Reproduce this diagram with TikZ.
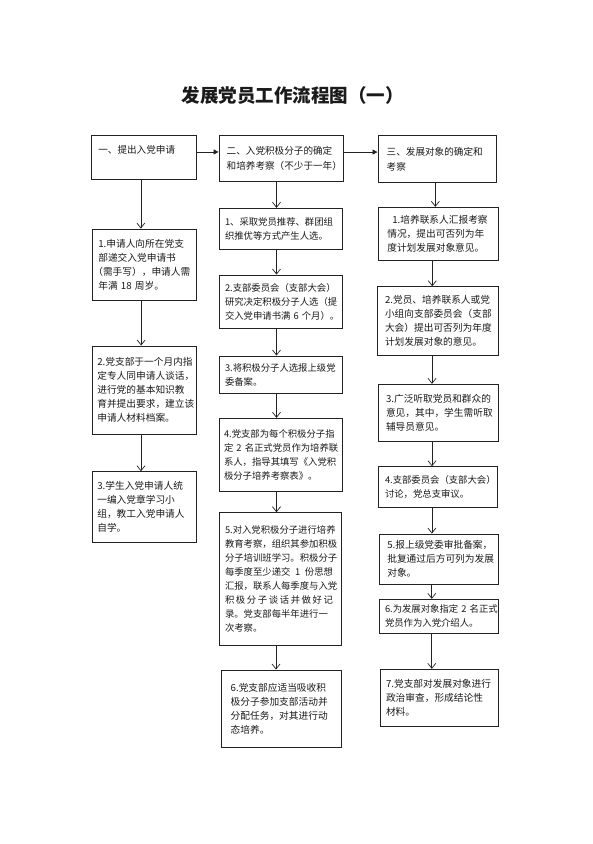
\documentclass[tikz,border=0pt]{standalone}
\usepackage{fontspec}
\setmainfont{Noto Sans CJK SC}
\usetikzlibrary{arrows.meta}
\definecolor{ink}{HTML}{1A1A1A}
\definecolor{edge}{HTML}{222222}
\begin{document}
\begin{tikzpicture}[x=1pt,y=-1pt,
  box/.style={draw=edge, line width=0.9pt, inner sep=0pt, align=left, text=ink,
    font=\fontsize{9.7}{14}\selectfont},
  nbox/.style={box, font=\fontsize{9.35}{14}\selectfont},
  hbox/.style={box, font=\fontsize{9.6}{15.5}\selectfont},
  varr/.style={draw=edge, line width=0.7pt, -{Straight Barb[length=5pt,width=8pt,line width=0.7pt]}},
  harr/.style={draw=edge, line width=0.7pt, -{Triangle[length=5pt,width=5pt]}}]
\useasboundingbox (0,0) rectangle (593,844);
\node[text=ink, font=\fontsize{18.5}{20}\selectfont\bfseries] (title) at (292.5,95) {发展党员工作流程图（一）};

% headers
\node[hbox, minimum width=105.7, minimum height=43.3, text width=91.1] (A) at (143.85,157.35) {一、提出入党申请\\\mbox{}};
\node[hbox, minimum width=124, minimum height=45.3, text width=108.6] (B) at (281,158.35) {二、入党积极分子的确定\\和培养考察（不少于一年）};
\node[hbox, minimum width=118.7, minimum height=47, text width=101.3] (C) at (437.35,159.2) {三、发展对象的确定和\\考察};

% column 1
\node[box, minimum width=103.7, minimum height=71.7, text width=91.7] (a1) at (144.15,264.85) {1.申请人向所在党支\\部递交入党申请书\\\hspace*{-5pt}（需手写），申请人需\\年满~18~周岁。};
\node[box, minimum width=104, minimum height=88, text width=93.4] (a2) at (144,390) {2.党支部于一个月内指\\定专人同申请人谈话，\\进行党的基本知识教\\育并提出要求，建立该\\申请人材料档案。};
\node[box, minimum width=104, minimum height=71, text width=93.4] (a3) at (144,507.2) {3.学生入党申请人统\\一编入党章学习小\\组，教工入党申请人\\自学。};

% column 2
\node[nbox, minimum width=123, minimum height=40.7, text width=111] (b1) at (280.5,228.65) {1、采取党员推荐、群团组\\织推优等方式产生人选。};
\node[nbox, minimum width=123, minimum height=53.3, text width=111] (b2) at (280.5,301.65) {2.支部委员会（支部大会）\\研究决定积极分子人选（提\\交入党申请书满~6~个月）。};
\node[nbox, minimum width=123, minimum height=37.3, text width=111] (b3) at (280.5,374.65) {3.将积极分子人选报上级党\\委备案。};
\node[nbox, minimum width=123, minimum height=72.7, text width=113] (b4) at (280.5,454.65) {4.党支部为每个积极分子指\\定~2~名正式党员作为培养联\\系人，指导其填写《入党积\\极分子培养考察表》。};
\node[nbox, minimum width=122.4, minimum height=132.3, text width=111] (b5) at (280.5,578.85) {5.对入党积极分子进行培养\\教育考察，组织其参加积极\\分子培训班学习。积极分子\\\makebox[108pt][s]{每季度至少递交\hfil 1\hfil 份思想}\\汇报，联系人每季度与入党\\\makebox[108pt][s]{积\hfil 极\hfil 分\hfil 子\hfil 谈\hfil 话\hfil 并\hfil 做\hfil 好\hfil 记}\\录。党支部每半年进行一\\次考察。};
\node[box, minimum width=120.7, minimum height=77.3, text width=101.3] (b6) at (281.35,708.65) {6.党支部应适当吸收积\\极分子参加支部活动并\\分配任务，对其进行动\\态培养。};

% column 3
\node[box, minimum width=120, minimum height=53.4, text width=102] (c1) at (438.3,234) {\hspace*{5pt}1.培养联系人汇报考察\\情况，提出可否列为年\\度计划发展对象意见。};
\node[box, minimum width=121, minimum height=68.3, text width=105] (c2) at (437.5,320.85) {2.党员、培养联系人或党\\小组向支部委员会（支部\\大会）提出可否列为年度\\计划发展对象的意见。};
\node[box, minimum width=120, minimum height=56.7, text width=104] (c3) at (438,412.65) {3.广泛听取党员和群众的\\意见，其中，学生需听取\\辅导员意见。};
\node[nbox, minimum width=119.7, minimum height=41, text width=105.7] (c4) at (437.85,487.2) {4.支部委员会（支部大会）\\讨论，党总支审议。};
\node[box, minimum width=119, minimum height=50.3, text width=103] (c5) at (438.8,559.15) {5.报上级党委审批备案，\\批复通过后方可列为发展\\对象。};
\node[nbox, minimum width=119, minimum height=34, text width=107.6] (c6) at (438.8,616.3) {6.为发展对象指定~2~名正式\\党员作为入党介绍人。};
\node[box, minimum width=117.6, minimum height=57.4, text width=107] (c7) at (439.5,698) {7.党支部对发展对象进行\\政治审查，形成结论性\\材料。};

% horizontal arrows
\draw[harr] ([yshift=5.4pt]A.east) -- ([yshift=5.4pt]A.east -| B.west);
\draw[harr] ([yshift=6.3pt]B.east) -- ([yshift=6.3pt]B.east -| C.west);

% column 1 arrows
\draw[varr] ([xshift=-3pt]A.south) -- ([xshift=-3pt]A.south |- a1.north);
\draw[varr] ([xshift=-3pt]a1.south) -- ([xshift=-3pt]a1.south |- a2.north);
\draw[varr] ([xshift=-3pt]a2.south) -- ([xshift=-3pt]a2.south |- a3.north);

% column 2 arrows
\draw[varr] ([xshift=-4.5pt]B.south) -- ([xshift=-4.5pt]B.south |- b1.north);
\draw[varr] ([xshift=-4pt]b1.south) -- ([xshift=-4pt]b1.south |- b2.north);
\draw[varr] ([xshift=-4pt]b2.south) -- ([xshift=-4pt]b2.south |- b3.north);
\draw[varr] ([xshift=-4pt]b3.south) -- ([xshift=-4pt]b3.south |- b4.north);
\draw[varr] ([xshift=-4pt]b4.south) -- ([xshift=-4pt]b4.south |- b5.north);
\draw[varr] ([xshift=-4.5pt]b5.south) -- ([xshift=-4.5pt]b5.south |- b6.north);

% column 3 arrows
\draw[varr] ([xshift=-2pt]C.south) -- ([xshift=-2pt]C.south |- c1.north);
\draw[varr] ([xshift=-6pt]c1.south) -- ([xshift=-6pt]c1.south |- c2.north);
\draw[varr] ([xshift=-5.5pt]c2.south) -- ([xshift=-5.5pt]c2.south |- c3.north);
\draw[varr] ([xshift=-6pt]c3.south) -- ([xshift=-6pt]c3.south |- c4.north);
\draw[varr] ([xshift=-6pt]c4.south) -- ([xshift=-6pt]c4.south |- c5.north);
\draw[varr] ([xshift=-7pt]c5.south) -- ([xshift=-7pt]c5.south |- c6.north);
\draw[varr] ([xshift=-7pt]c6.south) -- ([xshift=-7pt]c6.south |- c7.north);
\end{tikzpicture}
\end{document}
